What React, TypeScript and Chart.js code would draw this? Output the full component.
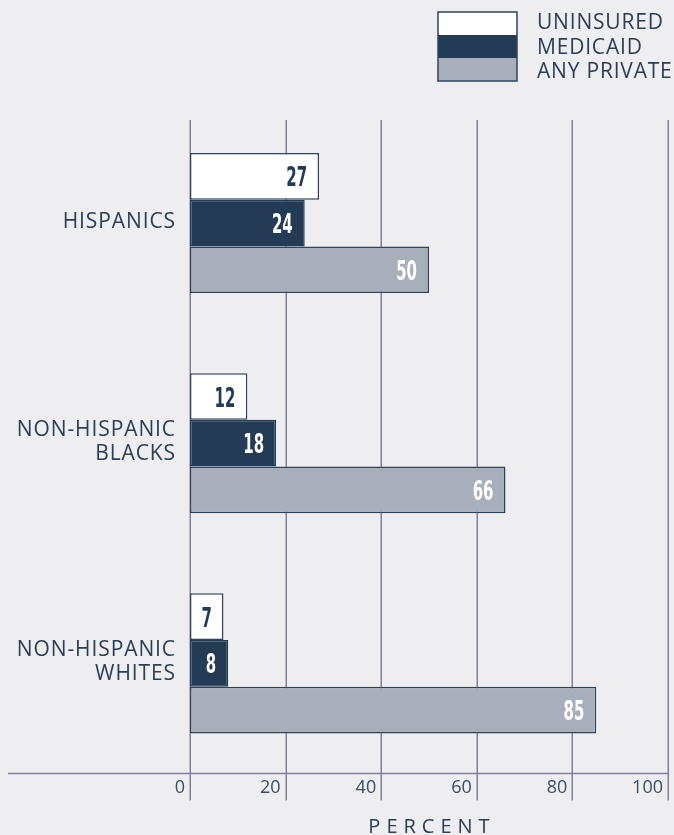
import React, { useEffect, useRef } from 'react';
import { Chart, registerables } from 'chart.js';

Chart.register(...registerables);

const categories: string[][] = [['HISPANICS'], ['NON-HISPANIC', 'BLACKS'], ['NON-HISPANIC', 'WHITES']];
const seriesNames = ['UNINSURED', 'MEDICAID', 'ANY PRIVATE'];
const uninsured = [27, 12, 7];
const medicaid = [24, 18, 8];
const anyPrivate = [50, 66, 85];
const xTickValues = [0, 20, 40, 60, 80, 100];
const axisTitle = 'PERCENT';

const BG = '#eeeef1';
const NAVY = '#233b55';
const GRAY = '#a7b0ba';
const BORDER = '#2f445c';
const GRID = '#857f9e';
const TEXT = '#2a3e56';
const FONT = '"Open Sans", "DejaVu Sans", sans-serif';
const VALUE_FONT = '"Liberation Sans Narrow", "DejaVu Sans Condensed", "DejaVu Sans", sans-serif';

const fills = ['#ffffff', NAVY, GRAY];
const valueColors = [NAVY, '#ffffff', '#ffffff'];

function spaced(ctx: CanvasRenderingContext2D, px: number) {
  (ctx as any).letterSpacing = px + 'px';
}

const decorPlugin = {
  id: 'decor',
  beforeDraw(chart: any) {
    const ctx = chart.ctx as CanvasRenderingContext2D;
    ctx.save();
    ctx.fillStyle = BG;
    ctx.fillRect(0, 0, chart.width, chart.height);
    ctx.restore();
  },
  beforeDatasetsDraw(chart: any) {
    const ctx = chart.ctx as CanvasRenderingContext2D;
    const xs = chart.scales.x;
    const area = chart.chartArea;
    ctx.save();
    ctx.strokeStyle = GRID;
    ctx.lineWidth = 1.5;
    xs.ticks.forEach((t: any) => {
      const x = Math.round(xs.getPixelForValue(t.value)) + 0.25;
      ctx.beginPath();
      ctx.moveTo(x, area.top + 7);
      ctx.lineTo(x, area.bottom + 27);
      ctx.stroke();
    });
    ctx.beginPath();
    ctx.moveTo(8, area.bottom);
    ctx.lineTo(xs.getPixelForValue(100), area.bottom);
    ctx.stroke();
    ctx.restore();
  },
  afterDatasetsDraw(chart: any) {
    const ctx = chart.ctx as CanvasRenderingContext2D;
    const xs = chart.scales.x;
    const ys = chart.scales.y;

    // value labels
    chart.data.datasets.forEach((ds: any, di: number) => {
      const meta = chart.getDatasetMeta(di);
      meta.data.forEach((el: any, i: number) => {
        const s = String(ds.data[i]);
        ctx.save();
        ctx.font = `bold 27px ${VALUE_FONT}`;
        const raw = ctx.measureText(s).width;
        const sx = (10.4 * s.length) / raw;
        const w = raw * sx;
        const start = Math.min(el.base, el.x);
        const end = Math.max(el.base, el.x);
        let xr: number;
        if (end - start - 24 < w) xr = (start + end) / 2 + w / 2;
        else xr = end - 12;
        ctx.translate(xr, el.y + 10);
        ctx.scale(sx, 1);
        ctx.textAlign = 'right';
        ctx.textBaseline = 'alphabetic';
        ctx.fillStyle = valueColors[di];
        ctx.fillText(s, 0, 0);
        ctx.restore();
      });
    });

    // category labels
    ctx.save();
    ctx.font = `21px ${FONT}`;
    spaced(ctx, 0.9);
    ctx.fillStyle = TEXT;
    ctx.textAlign = 'right';
    ctx.textBaseline = 'alphabetic';
    categories.forEach((lines, i) => {
      const c = ys.getPixelForValue(i);
      const blockH = 16 + (lines.length - 1) * 24;
      const top = c - 3 - blockH / 2;
      lines.forEach((ln, k) => {
        ctx.fillText(ln, xs.getPixelForValue(0) - 14, top + 16 + k * 24);
      });
    });
    ctx.restore();

    // legend
    ctx.save();
    const lx = 438, ly = 12, lw = 79, lh = 23;
    seriesNames.forEach((name, i) => {
      ctx.fillStyle = fills[i];
      ctx.fillRect(lx, ly + i * lh, lw, lh);
    });
    ctx.strokeStyle = BORDER;
    ctx.lineWidth = 1.5;
    ctx.strokeRect(lx, ly, lw, lh * 3);
    ctx.font = `21px ${FONT}`;
    spaced(ctx, 0.8);
    ctx.fillStyle = TEXT;
    ctx.textAlign = 'left';
    ctx.textBaseline = 'alphabetic';
    seriesNames.forEach((name, i) => {
      ctx.fillText(name, 537, 29 + i * 24.7);
    });
    ctx.restore();

    // axis title
    ctx.save();
    ctx.font = `20px ${FONT}`;
    spaced(ctx, 6);
    ctx.fillStyle = TEXT;
    ctx.textAlign = 'center';
    ctx.textBaseline = 'alphabetic';
    const cx = (xs.getPixelForValue(0) + xs.getPixelForValue(100)) / 2 + 3;
    ctx.fillText(axisTitle, cx, 833);
    ctx.restore();
  },
};

export default function App() {
  const ref = useRef<HTMLCanvasElement | null>(null);
  useEffect(() => {
    if (!ref.current) return;
    const chart = new Chart(ref.current, {
      type: 'bar',
      data: {
        labels: categories as any,
        datasets: [
          { label: seriesNames[0], data: uninsured, backgroundColor: fills[0], borderColor: BORDER, borderWidth: 1.5, borderSkipped: false },
          { label: seriesNames[1], data: medicaid, backgroundColor: fills[1], borderColor: NAVY, borderWidth: 1.5, borderSkipped: false },
          { label: seriesNames[2], data: anyPrivate, backgroundColor: fills[2], borderColor: BORDER, borderWidth: 1.5, borderSkipped: false },
        ],
      },
      options: {
        indexAxis: 'y',
        responsive: false,
        animation: false,
        layout: { padding: { left: 190, right: 6, top: 113, bottom: 32 } },
        categoryPercentage: 140 / 220,
        barPercentage: 1,
        plugins: { legend: { display: false }, tooltip: { enabled: false } },
        scales: {
          y: { type: 'category', display: false, grid: { display: false } },
          x: {
            type: 'linear',
            min: 0,
            max: 100,
            afterBuildTicks: (s: any) => { s.ticks = xTickValues.map((v) => ({ value: v })); },
            ticks: {
              align: 'end',
              labelOffset: -5,
              padding: 4,
              color: '#3a4d63',
              font: { family: FONT, size: 18 },
            },
            grid: { display: false, drawTicks: false },
            border: { display: false },
          },
        },
      } as any,
      plugins: [decorPlugin],
    });
    return () => chart.destroy();
  }, []);
  return (
    <div style={{ position: 'absolute', left: 0, top: 0, width: 674, height: 835, background: BG }}>
      <canvas ref={ref} width={674} height={835} style={{ display: 'block', width: 674, height: 835 }} />
    </div>
  );
}
